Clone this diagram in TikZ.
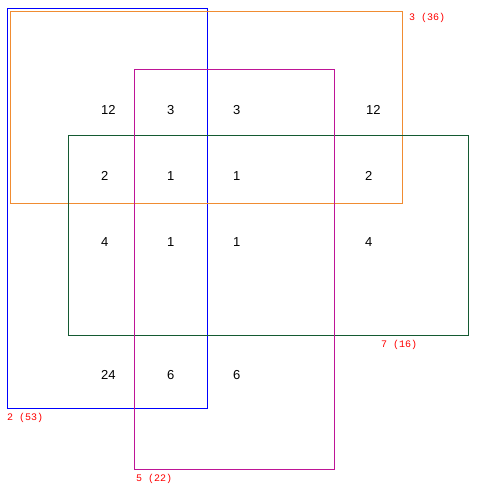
\documentclass[tikz,border=0pt]{standalone}
\usepackage{fontspec}
\setmainfont{Liberation Sans}
\newfontfamily\labfont{Liberation Mono}
\definecolor{cblue}{RGB}{0,0,255}
\definecolor{corange}{RGB}{240,140,50}
\definecolor{cmag}{RGB}{190,20,150}
\definecolor{cgreen}{RGB}{20,90,50}
\definecolor{cred}{RGB}{255,0,0}
\tikzset{
  setbox/.style={draw=#1, line width=1pt, inner sep=0pt, fill=none},
  cnt/.style={anchor=west, inner sep=0pt, font=\fontsize{13}{13}\selectfont, text=black},
  setlab/.style={anchor=west, inner sep=0pt, font=\labfont\fontsize{10}{10}\selectfont, text=cred}
}
\begin{document}
\begin{tikzpicture}[x=1pt,y=-1pt]
\useasboundingbox (0,0) rectangle (478,493);
\node[setbox=cblue, minimum width=200pt, minimum height=400pt] (s2) at (107.5,208.5) {};
\node[setbox=corange, minimum width=392pt, minimum height=192pt] (s3) at (206.5,107.5) {};
\node[setbox=cgreen, minimum width=400pt, minimum height=200pt] (s7) at (268.5,235.5) {};
\node[setbox=cmag, minimum width=200pt, minimum height=400pt] (s5) at (234.5,269.5) {};
% set labels
\node[setlab] (l3) at (409,18) {3 (36)};
\node[setlab] (l2) at (7,418) {2 (53)};
\node[setlab] (l5) at (136,479) {5 (22)};
\node[setlab] (l7) at (381,345) {7 (16)};
% counts row 1
\node[cnt] (r1a) at (101,110) {12};
\node[cnt] (r1b) at (167,110) {3};
\node[cnt] (r1c) at (233,110) {3};
\node[cnt] (r1d) at (366,110) {12};
% row 2
\node[cnt] (r2a) at (101,176) {2};
\node[cnt] (r2b) at (167,176) {1};
\node[cnt] (r2c) at (233,176) {1};
\node[cnt] (r2d) at (365,176) {2};
% row 3
\node[cnt] (r3a) at (101,242) {4};
\node[cnt] (r3b) at (167,242) {1};
\node[cnt] (r3c) at (233,242) {1};
\node[cnt] (r3d) at (365,242) {4};
% row 4
\node[cnt] (r4a) at (101,375) {24};
\node[cnt] (r4b) at (167,375) {6};
\node[cnt] (r4c) at (233,375) {6};
\end{tikzpicture}
\end{document}
